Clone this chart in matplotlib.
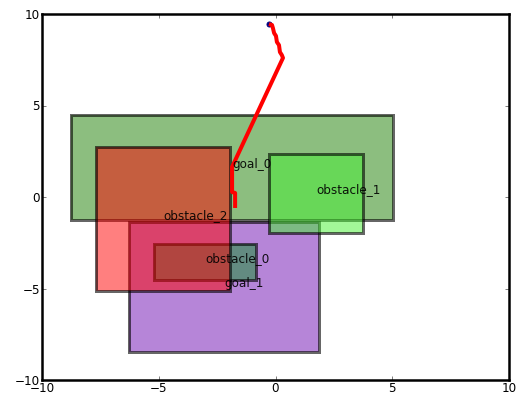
import matplotlib
matplotlib.use('Agg')
import matplotlib.pyplot as plt
from matplotlib.patches import Rectangle

# regions: goals and obstacles (lower-left corner, width, height)
rect_names = ['goal_0', 'goal_1', 'obstacle_0', 'obstacle_1', 'obstacle_2']
rect_x = [-8.76, -6.27, -5.20, -0.28, -7.69]
rect_y = [-1.26, -8.47, -4.54, -1.97, -5.14]
rect_w = [13.79, 8.13, 4.36, 4.03, 5.74]
rect_h = [5.74, 7.10, 1.97, 4.32, 7.87]
rect_colors = ['#1a7f00', '#6f0db3', '#11922b', '#46f032', '#ff0000']

# trajectory of the agent
path_x = [-0.28, -0.15, -0.11, -0.06, 0.02, 0.06, 0.15, 0.19, 0.27, 0.32,
          -1.86, -1.86, -1.73, -1.73]
path_y = [9.45, 9.40, 9.23, 8.96, 8.80, 8.47, 8.30, 7.92, 7.76, 7.60,
          1.64, 0.27, 0.22, -0.60]

plt.rcParams['font.size'] = 12

fig = plt.figure(figsize=(522 / 72, 394 / 72), dpi=72)
ax = fig.add_axes([42 / 522, 1 - 380 / 394, 467 / 522, 366 / 394])

for name, x, y, w, h, c in zip(rect_names, rect_x, rect_y, rect_w, rect_h, rect_colors):
    ax.add_patch(Rectangle((x, y), w, h, facecolor=c, alpha=0.5,
                           edgecolor='none'))
    ax.add_patch(Rectangle((x, y), w, h, facecolor='none',
                           edgecolor=(0, 0, 0, 0.6), linewidth=3))
    ax.text(x + w / 2, y + h / 2, name, color='black', alpha=0.9)

ax.plot(path_x[:1], path_y[:1], 'o', color='#000080', markersize=5)
ax.plot(path_x, path_y, color='red', linewidth=4, solid_capstyle='butt')

ax.set_xlim(-10, 10)
ax.set_ylim(-10, 10)
ax.set_xticks([-10, -5, 0, 5, 10])
ax.set_yticks([-10, -5, 0, 5, 10])
ax.tick_params(direction='in', length=4, width=0.5, top=True, right=True, pad=2)
for s in ax.spines.values():
    s.set_linewidth(2.5)

fig.savefig('out.png', dpi=72)
